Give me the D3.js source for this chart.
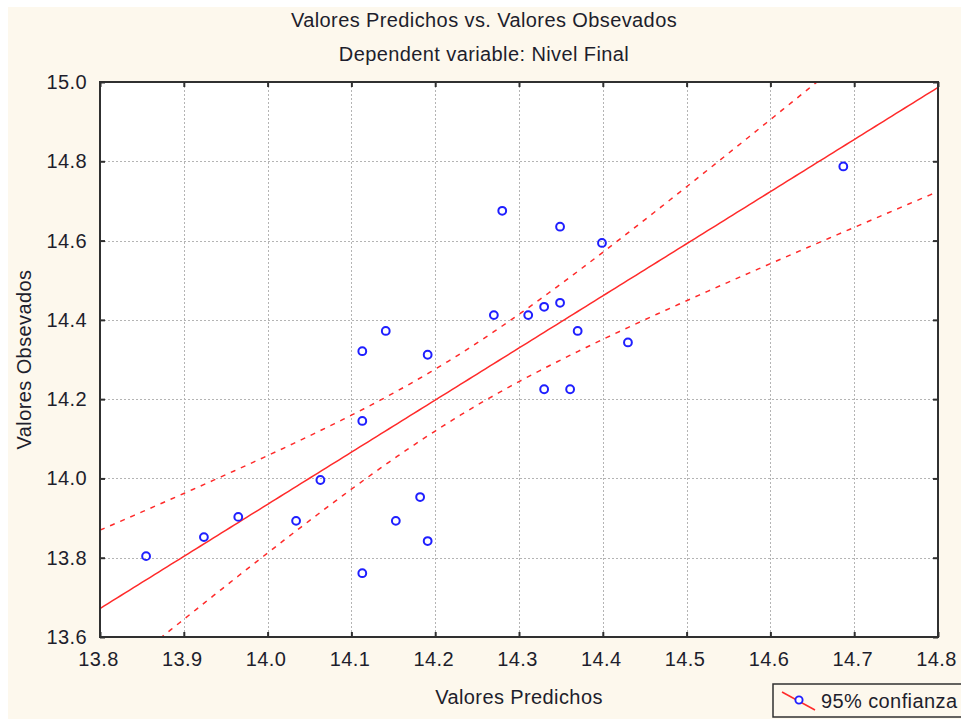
<!DOCTYPE html>
<html>
<head>
<meta charset="utf-8">
<script src="https://cdn.jsdelivr.net/npm/d3@7"></script>
<style>
  html, body { margin: 0; padding: 0; background: #ffffff; }
  svg { display: block; }
  text { font-family: "Liberation Sans", Arial, sans-serif; fill: #1e1e2c; letter-spacing: 0.4px; }
</style>
</head>
<body>
<svg id="chart" width="961" height="719"></svg>
<script>
// Predicted values (x) and observed values (y) of "Nivel Final"
const predicted = [13.855, 13.924, 13.965, 14.034, 14.063, 14.113, 14.113, 14.113, 14.141, 14.191,
                   14.153, 14.182, 14.191, 14.270, 14.280, 14.311, 14.330, 14.349, 14.349, 14.330,
                   14.361, 14.370, 14.399, 14.430, 14.687];
const observed  = [13.804, 13.852, 13.903, 13.893, 13.996, 13.761, 14.145, 14.321, 14.372, 14.312,
                   13.893, 13.953, 13.842, 14.412, 14.675, 14.412, 14.433, 14.443, 14.635, 14.225,
                   14.225, 14.372, 14.594, 14.343, 14.787];

const xTicks = [13.8, 13.9, 14.0, 14.1, 14.2, 14.3, 14.4, 14.5, 14.6, 14.7, 14.8];
const yTicks = [13.6, 13.8, 14.0, 14.2, 14.4, 14.6, 14.8, 15.0];
const xDomain = [13.8, 14.8];
const yDomain = [13.6, 15.0];

const titleText = "Valores Predichos vs. Valores Obsevados";
const subtitleText = "Dependent variable: Nivel Final";
const xLabel = "Valores Predichos";
const yLabel = "Valores Obsevados";
const legendLabel = "95% confianza";
const tCrit = 2.0687; // Student t, 0.975 quantile, 23 degrees of freedom

const svg = d3.select("#chart");
const W = 961, H = 719;
const m = { left: 100, top: 82, right: 938, bottom: 637 };

// page background
svg.append("rect").attr("x", 8).attr("y", 7).attr("width", W - 8).attr("height", H - 7)
  .attr("fill", "#fdf8ed");

const x = d3.scaleLinear().domain(xDomain).range([m.left, m.right]);
const y = d3.scaleLinear().domain(yDomain).range([m.bottom, m.top]);

// plot area
svg.append("rect").attr("x", m.left).attr("y", m.top)
  .attr("width", m.right - m.left).attr("height", m.bottom - m.top).attr("fill", "#ffffff");

svg.append("defs").append("clipPath").attr("id", "plotClip")
  .append("rect").attr("x", m.left).attr("y", m.top)
  .attr("width", m.right - m.left).attr("height", m.bottom - m.top);

// grid
const grid = svg.append("g").attr("stroke", "#b4b4b4").attr("stroke-width", 1)
  .attr("stroke-dasharray", "2,2");
grid.selectAll("line.vx").data(xTicks.slice(1, -1)).join("line")
  .attr("x1", d => Math.round(x(d)) + 0.5).attr("x2", d => Math.round(x(d)) + 0.5)
  .attr("y1", m.top).attr("y2", m.bottom);
grid.selectAll("line.hy").data(yTicks.slice(1, -1)).join("line")
  .attr("y1", d => Math.round(y(d)) + 0.5).attr("y2", d => Math.round(y(d)) + 0.5)
  .attr("x1", m.left).attr("x2", m.right);

// least-squares fit of observed on predicted, with 95% confidence band for the mean
const n = predicted.length;
const mx = d3.mean(predicted), my = d3.mean(observed);
const sxx = d3.sum(predicted, v => (v - mx) ** 2);
const sxy = d3.sum(predicted, (v, i) => (v - mx) * (observed[i] - my));
const slope = sxy / sxx;
const intercept = my - slope * mx;
const sse = d3.sum(predicted, (v, i) => (observed[i] - (intercept + slope * v)) ** 2);
const s = Math.sqrt(sse / (n - 2));
const fit = v => intercept + slope * v;
const half = v => tCrit * s * Math.sqrt(1 / n + (v - mx) ** 2 / sxx);

const xs = d3.range(0, 201).map(i => xDomain[0] + (xDomain[1] - xDomain[0]) * i / 200);
const line = d3.line().x(d => x(d[0])).y(d => y(d[1]));

const curves = svg.append("g").attr("clip-path", "url(#plotClip)")
  .attr("fill", "none").attr("stroke", "#ff2a2a").attr("stroke-width", 1.5);
curves.append("path").attr("d", line(xs.map(v => [v, fit(v)])));
curves.append("path").attr("stroke-dasharray", "5,6")
  .attr("d", line(xs.map(v => [v, fit(v) + half(v)])));
curves.append("path").attr("stroke-dasharray", "5,6")
  .attr("d", line(xs.map(v => [v, fit(v) - half(v)])));

// observations
svg.append("g").selectAll("circle").data(predicted).join("circle")
  .attr("cx", d => x(d)).attr("cy", (d, i) => y(observed[i])).attr("r", 3.9)
  .attr("fill", "none").attr("stroke", "#1f1fff").attr("stroke-width", 2);

// frame with inward ticks on all four sides
const frame = svg.append("g");
frame.append("rect").attr("x", m.left).attr("y", m.top)
  .attr("width", m.right - m.left).attr("height", m.bottom - m.top)
  .attr("fill", "none").attr("stroke", "#303030").attr("stroke-width", 2);

const axB = d3.axisBottom(x).tickValues(xTicks).tickSize(-5).tickFormat("");
const axT = d3.axisTop(x).tickValues(xTicks).tickSize(-5).tickFormat("");
const axL = d3.axisLeft(y).tickValues(yTicks).tickSize(-5).tickFormat("");
const axR = d3.axisRight(y).tickValues(yTicks).tickSize(-5).tickFormat("");
[[axB, `translate(0,${m.bottom})`], [axT, `translate(0,${m.top})`],
 [axL, `translate(${m.left},0)`], [axR, `translate(${m.right},0)`]].forEach(([ax, tr]) => {
  const g = frame.append("g").attr("transform", tr).call(ax);
  g.select(".domain").remove();
  g.selectAll(".tick line").attr("stroke", "#303030").attr("stroke-width", 2);
});

// tick labels
svg.append("g").selectAll("text").data(xTicks).join("text")
  .attr("x", d => x(d) - 1.5).attr("y", 666).attr("text-anchor", "middle")
  .attr("font-size", 20).text(d => d.toFixed(1));
svg.append("g").selectAll("text").data(yTicks).join("text")
  .attr("x", 87).attr("y", d => y(d) + 7).attr("text-anchor", "end")
  .attr("font-size", 20).text(d => d.toFixed(1));

// titles
const cxPage = 484;
svg.append("text").attr("x", cxPage).attr("y", 27).attr("text-anchor", "middle")
  .attr("font-size", 20).text(titleText);
svg.append("text").attr("x", cxPage).attr("y", 61).attr("text-anchor", "middle")
  .attr("font-size", 20).text(subtitleText);
svg.append("text").attr("x", (m.left + m.right) / 2).attr("y", 704).attr("text-anchor", "middle")
  .attr("font-size", 20).text(xLabel);
svg.append("text").attr("transform", `translate(31,${(m.top + m.bottom) / 2}) rotate(-90)`)
  .attr("text-anchor", "middle").attr("font-size", 20).text(yLabel);

// legend
const lg = svg.append("g");
lg.append("rect").attr("x", 773).attr("y", 684).attr("width", 200).attr("height", 33)
  .attr("fill", "none").attr("stroke", "#303030").attr("stroke-width", 1.5);
lg.append("line").attr("x1", 782).attr("y1", 692).attr("x2", 815).attr("y2", 710)
  .attr("stroke", "#ff2a2a").attr("stroke-width", 1.5);
lg.append("circle").attr("cx", 799).attr("cy", 700).attr("r", 3.6)
  .attr("fill", "#ffffff").attr("stroke", "#1f1fff").attr("stroke-width", 1.9);
lg.append("text").attr("x", 821).attr("y", 708).attr("font-size", 20).text(legendLabel);
</script>
</body>
</html>
